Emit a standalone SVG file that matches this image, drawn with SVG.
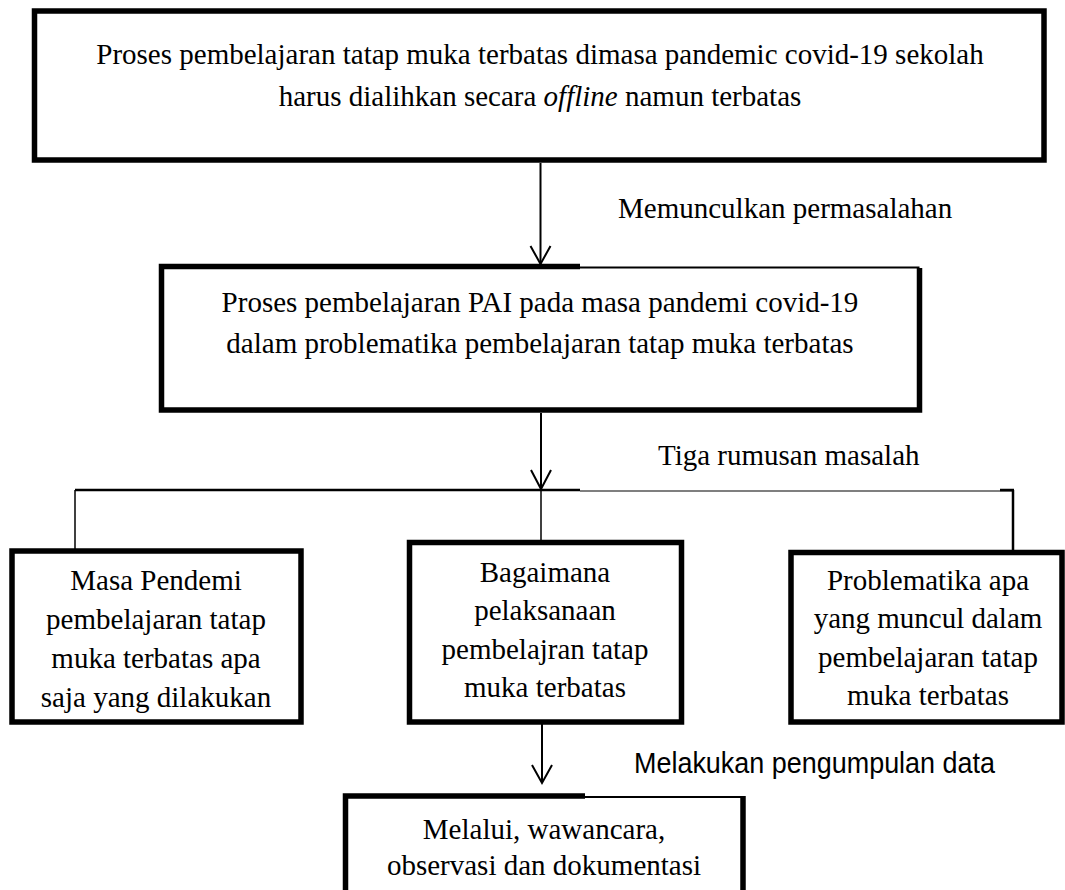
<svg xmlns="http://www.w3.org/2000/svg" width="1065" height="890" viewBox="0 0 1065 890">
<style>
.t{font-family:"Liberation Serif","Times New Roman",serif;font-size:29px;fill:#000}
.c{text-anchor:middle}
.s{font-family:"Liberation Sans",Arial,sans-serif;font-size:29px;fill:#000}
.bx{fill:none;stroke:#000;stroke-width:5.5}
.thin{fill:none;stroke:#000;stroke-width:2}
.ln{fill:none;stroke:#000;stroke-width:2}
.ah{fill:none;stroke:#000;stroke-width:2}
</style>
<rect width="1065" height="890" fill="#fff"/>
<g id="node-top">
<rect class="bx" x="34.5" y="11" width="1009.5" height="149"/>
<text class="t c" x="540" y="64">Proses pembelajaran tatap muka terbatas dimasa pandemic covid-19 sekolah</text>
<text class="t c" x="540" y="106">harus dialihkan secara <tspan font-style="italic">offline</tspan> namun terbatas</text>
</g>
<g id="node-pai">
<path class="bx" d="M580,266.5 H161.5 V410 H919.5 V268"/>
<path class="thin" d="M580,267.5 H919.5"/>
<text class="t c" x="540" y="312">Proses pembelajaran PAI pada masa pandemi covid-19</text>
<text class="t c" x="540" y="353">dalam problematika pembelajaran tatap muka terbatas</text>
</g>
<g id="node-masa">
<rect class="bx" x="12" y="551" width="289" height="171"/>
<text class="t c" x="156" y="590">Masa Pendemi</text>
<text class="t c" x="156" y="629">pembelajaran tatap</text>
<text class="t c" x="156" y="668">muka terbatas apa</text>
<text class="t c" x="156" y="707">saja yang dilakukan</text>
</g>
<g id="node-bagaimana">
<rect class="bx" x="409.5" y="542.5" width="272" height="179.5"/>
<text class="t c" x="545" y="582">Bagaimana</text>
<text class="t c" x="545" y="620">pelaksanaan</text>
<text class="t c" x="545" y="659">pembelajran tatap</text>
<text class="t c" x="545" y="697">muka terbatas</text>
</g>
<g id="node-problematika">
<rect class="bx" x="791" y="552.5" width="271" height="169.5"/>
<text class="t c" x="928" y="590">Problematika apa</text>
<text class="t c" x="928" y="628">yang muncul dalam</text>
<text class="t c" x="928" y="667">pembelajaran tatap</text>
<text class="t c" x="928" y="705">muka terbatas</text>
</g>
<g id="node-melalui">
<path class="bx" d="M585,796 H345.5 V895"/>
<path class="bx" d="M743,796 V895"/>
<path class="thin" d="M585,797 H743"/>
<text class="t c" x="544" y="839">Melalui, wawancara,</text>
<text class="t c" x="544" y="875">observasi dan dokumentasi</text>
</g>
<g id="connectors">
<path class="ln" d="M540.5,163 V264"/>
<path class="ah" d="M530.5,246 L540.5,264 L550.5,246"/>
<text class="t" x="618" y="218">Memunculkan permasalahan</text>
<path class="ln" d="M541,413 V489"/>
<path class="ah" d="M531,470 L541,489 L551,470"/>
<text class="t" x="658" y="465">Tiga rumusan masalah</text>
<path d="M75,490 H580" stroke="#000" stroke-width="2.5" fill="none"/>
<path d="M580,491 H1012" stroke="#555" stroke-width="1.5" fill="none"/>
<path d="M1000,490 H1014" stroke="#000" stroke-width="2.5" fill="none"/>
<path d="M75,490 V549" stroke="#000" stroke-width="1.5" fill="none"/>
<path d="M541,490 V541" stroke="#000" stroke-width="1.5" fill="none"/>
<path d="M1013,490 V551" stroke="#000" stroke-width="2.5" fill="none"/>
<path class="ln" d="M542,724 V783"/>
<path class="ah" d="M532,765 L542,783 L552,765"/>
<text class="s" x="634" y="773" textLength="361" lengthAdjust="spacingAndGlyphs">Melakukan pengumpulan data</text>
</g>
</svg>
